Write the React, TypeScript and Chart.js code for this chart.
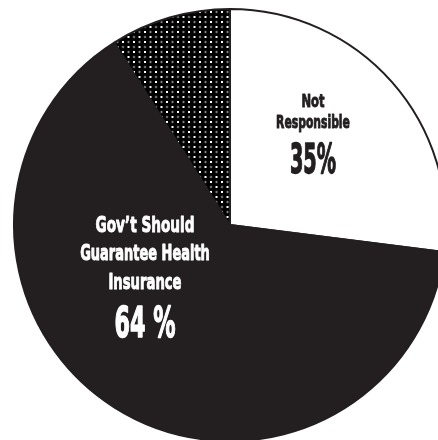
import React, { useEffect, useRef } from "react";
import { Chart, registerables } from "chart.js";

Chart.register(...registerables);

const categories = ["Not Responsible", "Gov’t Should Guarantee Health Insurance", "Other"];
const values = [27, 64, 9];
const rightLabelLines = ["Not", "Responsible"];
const rightLabelPct = "35%";
const leftLabelLines = ["Gov’t Should", "Guarantee Health", "Insurance"];
const leftLabelPct = "64 %";

const DARK = "#231f20";

function makePattern(): CanvasPattern | string {
  const c = document.createElement("canvas");
  c.width = 11;
  c.height = 10;
  const g = c.getContext("2d");
  if (!g) return DARK;
  g.fillStyle = "#000";
  g.fillRect(0, 0, 11, 10);
  g.fillStyle = "#ffffff";
  g.fillRect(1, 1, 2, 2);
  g.fillRect(6.5, 6, 2, 2);
  const grad = (x: number, y: number) => {
    const r = g.createRadialGradient(x, y, 0, x, y, 2.2);
    r.addColorStop(0, "rgba(220,220,220,1)");
    r.addColorStop(1, "rgba(0,0,0,0)");
    g.fillStyle = r;
    g.fillRect(x - 3, y - 3, 6, 6);
  };
  grad(7.5, 2);
  grad(2, 7);
  const p = g.createPattern(c, "repeat");
  return p || DARK;
}

function drawCondensed(
  ctx: CanvasRenderingContext2D,
  text: string,
  x: number,
  y: number,
  size: number,
  sx: number,
  color: string,
  weightStroke: number
) {
  ctx.save();
  ctx.font = `bold ${size}px "DejaVu Sans", sans-serif`;
  ctx.fillStyle = color;
  ctx.strokeStyle = color;
  ctx.lineWidth = weightStroke;
  ctx.lineJoin = "round";
  ctx.textAlign = "center";
  ctx.textBaseline = "alphabetic";
  ctx.translate(x, y);
  ctx.scale(sx, 1);
  ctx.fillText(text, 0, 0);
  if (weightStroke > 0) ctx.strokeText(text, 0, 0);
  ctx.restore();
}

const labelPlugin = {
  id: "pieLabels",
  afterDraw(chart: any) {
    const ctx = chart.ctx as CanvasRenderingContext2D;
    const arc = chart.getDatasetMeta(0).data[0];
    const cx = arc.x;
    const cy = arc.y;
    // right label (relative to center)
    const rx = cx + 83;
    drawCondensed(ctx, rightLabelLines[0], rx, cy - 118, 18, 0.64, DARK, 1);
    drawCondensed(ctx, rightLabelLines[1], rx, cy - 97, 18, 0.6, DARK, 1);
    drawCondensed(ctx, rightLabelPct, rx, cy - 52, 41, 0.47, DARK, 1.5);
    // left label
    const lx = cx - 85;
    drawCondensed(ctx, leftLabelLines[0], lx, cy + 7, 22, 0.62, "#ffffff", 1);
    drawCondensed(ctx, leftLabelLines[1], lx, cy + 35, 22, 0.59, "#ffffff", 1);
    drawCondensed(ctx, leftLabelLines[2], lx, cy + 64, 22, 0.6, "#ffffff", 1);
    drawCondensed(ctx, leftLabelPct, lx, cy + 112, 42, 0.53, "#ffffff", 1.5);
  },
};

export default function App() {
  const ref = useRef<HTMLCanvasElement | null>(null);
  useEffect(() => {
    if (!ref.current) return;
    const pattern = makePattern();
    const chart = new Chart(ref.current, {
      type: "pie",
      data: {
        labels: categories,
        datasets: [
          {
            data: values,
            backgroundColor: ["#ffffff", DARK, pattern as any],
            borderColor: DARK,
            borderWidth: 2,
            radius: 216,
            clip: false as any,
          } as any,
        ],
      },
      options: {
        responsive: false,
        animation: false,
        layout: { padding: { left: 22, right: 0, top: 10, bottom: 0 } },
        plugins: {
          legend: { display: false },
          tooltip: { enabled: false },
        },
      },
      plugins: [labelPlugin],
    });
    return () => chart.destroy();
  }, []);
  return (
    <div style={{ position: "fixed", left: 0, top: 0, width: 438, height: 440, background: "#fff", overflow: "hidden" }}>
      <canvas ref={ref} width={438} height={440} />
    </div>
  );
}
